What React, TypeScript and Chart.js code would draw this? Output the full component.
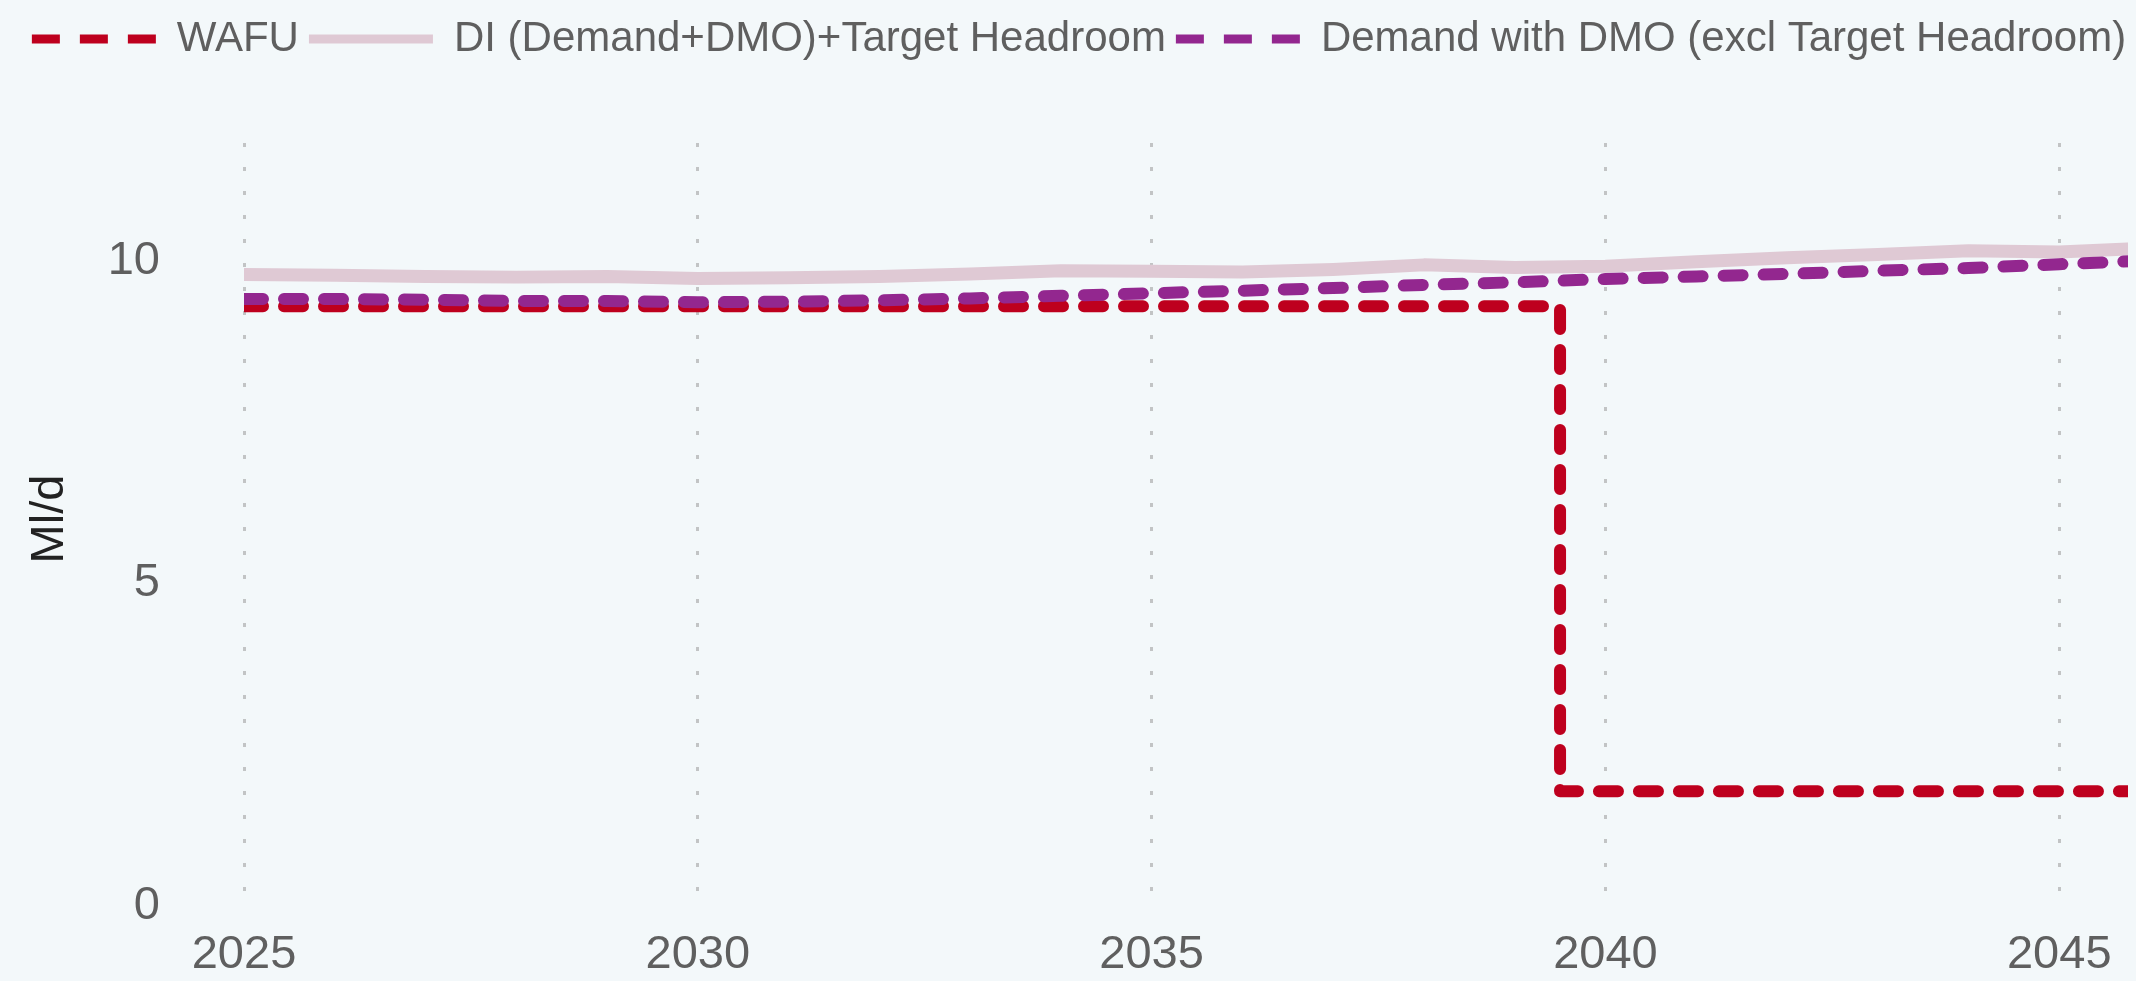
import React, { useEffect, useRef } from 'react';
import { Chart, registerables } from 'chart.js';

Chart.register(...registerables);

const years = [2025, 2026, 2027, 2028, 2029, 2030, 2031, 2032, 2033, 2034, 2035, 2036, 2037, 2038, 2039, 2040, 2041, 2042, 2043, 2044, 2045, 2046];
const wafu = [9.3, 9.3, 9.3, 9.3, 9.3, 9.3, 9.3, 9.3, 9.3, 9.3, 9.3, 9.3, 9.3, 9.3, 9.3, 1.78, 1.78, 1.78, 1.78, 1.78, 1.78, 1.78];
const diHeadroom = [9.79, 9.78, 9.76, 9.75, 9.76, 9.73, 9.74, 9.76, 9.8, 9.85, 9.84, 9.83, 9.87, 9.94, 9.9, 9.92, 9.99, 10.05, 10.1, 10.16, 10.14, 10.2];
const demandDmo = [9.41, 9.41, 9.4, 9.38, 9.38, 9.36, 9.37, 9.39, 9.42, 9.46, 9.5, 9.54, 9.58, 9.63, 9.67, 9.72, 9.76, 9.8, 9.85, 9.89, 9.95, 10.01];
const seriesLabels = ['WAFU', 'DI (Demand+DMO)+Target Headroom', 'Demand with DMO (excl Target Headroom)'];
const xTicks = [2025, 2030, 2035, 2040, 2045];
const yTicks = [0, 5, 10];

const FONT = '"Liberation Sans", Arial, Helvetica, sans-serif';

const legendSpacer = {
  id: 'legendSpacer',
  beforeLayout(chart: any) {
    const legend = chart.legend;
    if (legend && !legend.__patched) {
      const orig = legend.fit;
      legend.fit = function () {
        orig.call(this);
        this.height += 62;
      };
      legend.__patched = true;
    }
  },
};

export default function App() {
  const ref = useRef<HTMLCanvasElement | null>(null);

  useEffect(() => {
    document.body.style.background = '#f3f8fa';
    const pts = (ys: number[]) => years.map((x, i) => ({ x, y: ys[i] }));
    const chart = new Chart(ref.current as HTMLCanvasElement, {
      type: 'line',
      data: {
        datasets: [
          {
            label: seriesLabels[0],
            data: pts(wafu),
            borderColor: '#be001e',
            backgroundColor: '#be001e',
            borderWidth: 12,
            borderDash: [19, 21],
            borderCapStyle: 'round',
            borderJoinStyle: 'round',
            stepped: 'middle',
            pointRadius: 0,
            order: 3,
          },
          {
            label: seriesLabels[1],
            data: pts(diHeadroom),
            borderColor: '#dfc9d4',
            backgroundColor: '#dfc9d4',
            borderWidth: 13,
            borderCapStyle: 'round',
            borderJoinStyle: 'round',
            pointRadius: 0,
            tension: 0,
            order: 2,
          },
          {
            label: seriesLabels[2],
            data: pts(demandDmo),
            borderColor: '#93278f',
            backgroundColor: '#93278f',
            borderWidth: 12,
            borderDash: [19, 21],
            borderCapStyle: 'round',
            borderJoinStyle: 'round',
            pointRadius: 0,
            tension: 0,
            order: 1,
          },
        ],
      } as any,
      options: {
        responsive: false,
        animation: false,
        devicePixelRatio: 1,
        layout: { padding: 0 },
        plugins: {
          tooltip: { enabled: false },
          legend: {
            position: 'top',
            labels: {
              usePointStyle: true,
              pointStyle: 'line',
              pointStyleWidth: 124,
              padding: 10,
              color: '#5f5f5f',
              font: { family: FONT, size: 42 },
              generateLabels: (c: any) =>
                c.data.datasets.map((ds: any, i: number) => ({
                  text: ds.label,
                  fillStyle: ds.borderColor,
                  strokeStyle: ds.borderColor,
                  lineWidth: 9,
                  lineDash: i === 1 ? [] : [28, 20],
                  lineCap: 'butt',
                  pointStyle: 'line',
                  hidden: false,
                  datasetIndex: i,
                  fontColor: '#5f5f5f',
                })),
            },
          } as any,
        },
        scales: {
          x: {
            type: 'linear',
            min: 2025,
            max: 2046,
            afterBuildTicks: (s: any) => {
              s.ticks = xTicks.map((v) => ({ value: v }));
            },
            afterFit: (s: any) => {
              s.height = 66;
            },
            grid: { color: '#c2c4c5', lineWidth: 3, drawTicks: false },
            border: { display: false, dash: [4, 20], dashOffset: 13 },
            ticks: {
              color: '#5f5f5f',
              font: { family: FONT, size: 47 },
              padding: 21,
              maxRotation: 0,
              autoSkip: false,
              callback: (v: any) => String(v),
            },
          },
          y: {
            min: 0,
            max: 12,
            afterBuildTicks: (s: any) => {
              s.ticks = yTicks.map((v) => ({ value: v }));
            },
            afterFit: (s: any) => {
              s.width = 236;
              s.paddingTop = 0;
              s.paddingBottom = 0;
            },
            grid: { display: false, drawTicks: false },
            border: { display: false },
            ticks: {
              color: '#5f5f5f',
              font: { family: FONT, size: 47 },
              padding: 84,
              callback: (v: any) => String(v),
            },
            title: {
              display: true,
              text: 'Ml/d',
              color: '#222222',
              font: { family: FONT, size: 47 },
              padding: { top: 14, bottom: 29 },
            },
          },
        },
      } as any,
      plugins: [legendSpacer],
    });
    return () => chart.destroy();
  }, []);

  return (
    <div style={{ width: 2128, height: 964, overflow: 'hidden' }}>
      <canvas ref={ref} width={2142} height={964} style={{ display: 'block' }} />
    </div>
  );
}
